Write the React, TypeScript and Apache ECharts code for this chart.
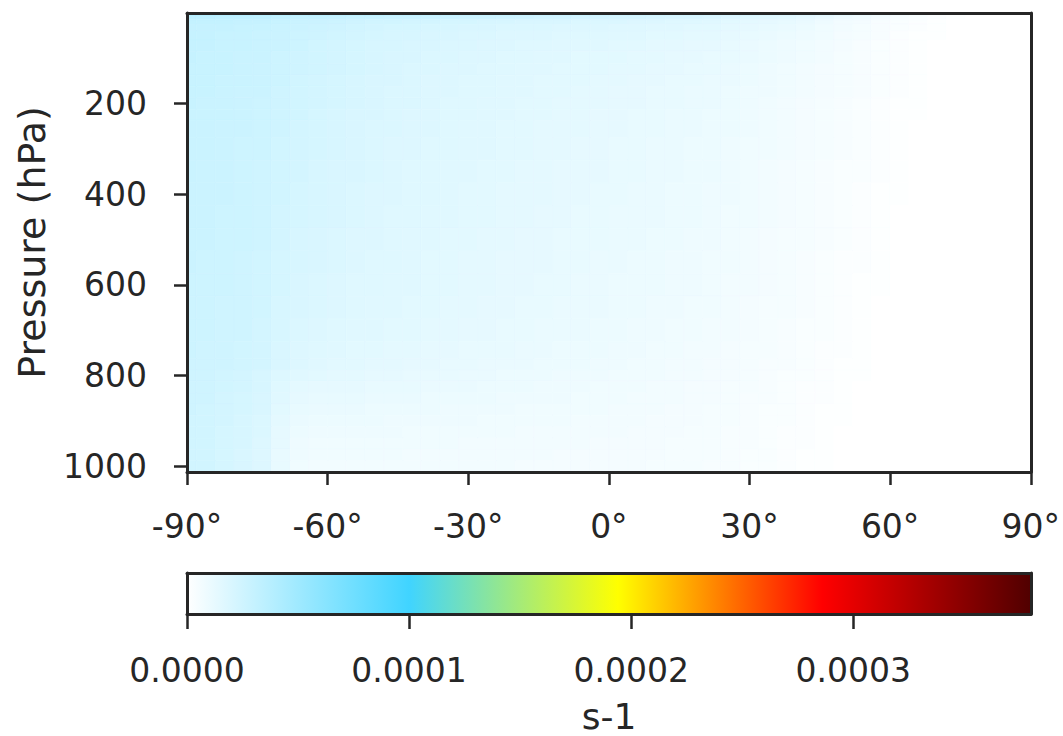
import { useEffect, useRef } from 'react';
import * as echarts from 'echarts';

// Pressure levels (hPa), top to bottom
const levels = [1, 2, 3, 5, 7, 10, 20, 30, 50, 70, 100, 125, 150, 175, 200, 225, 250, 300, 350, 400, 450, 500, 550, 600, 650, 700, 750, 775, 800, 825, 850, 875, 900, 925, 950, 975, 1000];

// Latitude centres (degrees)
const lats = [-90, -86, -82, -78, -74, -70, -66, -62, -58, -54, -50, -46, -42, -38, -34, -30, -26, -22, -18, -14, -10, -6, -2, 2, 6, 10, 14, 18, 22, 26, 30, 34, 38, 42, 46, 50, 54, 58, 62, 66, 70, 74, 78, 82, 86, 90];

// Field values in units of 1e-6 s-1, one row per pressure level (same order as levels)
const valueUnit = 1e-6;
const values: number[][] = [
  [72, 72, 71, 70, 69, 68, 67, 66, 65, 64, 63, 62, 61, 60, 59, 58, 57, 56, 55, 54, 53, 52, 51, 50, 49, 48, 47, 46, 45, 44, 43, 42, 40, 38, 35, 31, 27, 22, 17, 12, 8, 5, 3, 2, 1, 1],
  [62, 62, 61, 60, 60, 59, 58, 57, 56, 55, 54, 53, 52, 52, 51, 50, 49, 48, 47, 46, 45, 45, 44, 43, 42, 41, 40, 39, 38, 37, 36, 35, 33, 31, 28, 25, 21, 17, 13, 9, 6, 4, 2, 1, 1, 0],
  [52, 52, 51, 51, 50, 49, 49, 48, 47, 46, 45, 45, 44, 43, 42, 42, 41, 40, 39, 39, 38, 37, 36, 36, 35, 34, 33, 32, 31, 30, 29, 28, 27, 25, 22, 19, 16, 13, 10, 7, 4, 3, 2, 1, 0, 0],
  [44, 44, 43, 43, 42, 42, 41, 40, 40, 39, 38, 38, 37, 36, 36, 35, 34, 34, 33, 32, 32, 31, 30, 30, 29, 28, 28, 27, 26, 25, 24, 23, 22, 20, 18, 15, 12, 10, 7, 5, 3, 2, 1, 1, 0, 0],
  [38, 38, 37, 37, 36, 36, 35, 35, 34, 33, 33, 32, 32, 31, 31, 30, 29, 29, 28, 28, 27, 27, 26, 25, 25, 24, 23, 23, 22, 21, 20, 19, 18, 16, 14, 12, 10, 8, 6, 4, 2, 1, 1, 0, 0, 0],
  [34, 34, 33, 33, 33, 32, 31, 31, 30, 29, 29, 28, 28, 27, 27, 26, 26, 25, 25, 24, 24, 23, 23, 22, 22, 21, 20, 20, 19, 18, 17, 16, 15, 13, 11, 9, 8, 6, 4, 3, 2, 1, 0, 0, 0, 0],
  [31, 31, 31, 30, 30, 29, 28, 27, 26, 25, 24, 24, 23, 23, 22, 22, 21, 21, 20, 20, 20, 19, 19, 19, 18, 18, 17, 17, 16, 15, 14, 13, 12, 11, 9, 7, 6, 4, 3, 2, 1, 0, 0, 0, 0, 0],
  [30, 30, 30, 29, 29, 28, 27, 26, 25, 24, 23, 22, 22, 21, 21, 20, 20, 19, 19, 19, 18, 18, 18, 17, 17, 16, 16, 15, 15, 14, 13, 12, 11, 10, 8, 7, 5, 4, 3, 2, 1, 0, 0, 0, 0, 0],
  [30, 30, 29, 29, 28, 27, 26, 25, 24, 23, 22, 21, 21, 20, 20, 19, 19, 18, 18, 18, 17, 17, 17, 16, 16, 15, 15, 14, 14, 13, 12, 11, 10, 9, 8, 6, 5, 4, 2, 1, 1, 0, 0, 0, 0, 0],
  [30, 30, 29, 29, 28, 27, 26, 24, 23, 22, 21, 21, 20, 20, 19, 19, 18, 18, 17, 17, 16, 16, 16, 15, 15, 14, 14, 13, 13, 12, 11, 10, 9, 8, 7, 6, 4, 3, 2, 1, 0, 0, 0, 0, 0, 0],
  [30, 29, 29, 28, 28, 26, 25, 24, 23, 22, 21, 20, 20, 19, 19, 18, 18, 17, 17, 16, 16, 15, 15, 15, 14, 14, 13, 13, 12, 12, 11, 10, 9, 8, 7, 5, 4, 3, 2, 1, 0, 0, 0, 0, 0, 0],
  [29, 29, 29, 28, 27, 26, 25, 24, 23, 22, 21, 20, 19, 19, 18, 18, 17, 17, 16, 16, 15, 15, 15, 14, 14, 13, 13, 12, 12, 11, 10, 9, 8, 7, 6, 5, 4, 3, 2, 1, 0, 0, 0, 0, 0, 0],
  [29, 29, 28, 28, 27, 26, 24, 23, 22, 21, 20, 20, 19, 18, 18, 17, 17, 16, 16, 15, 15, 15, 14, 14, 13, 13, 12, 12, 11, 11, 10, 9, 8, 7, 6, 5, 4, 3, 2, 1, 0, 0, 0, 0, 0, 0],
  [29, 29, 28, 27, 27, 25, 24, 23, 22, 21, 20, 19, 19, 18, 18, 17, 17, 16, 16, 15, 15, 14, 14, 13, 13, 12, 12, 11, 11, 10, 9, 9, 8, 7, 6, 5, 4, 3, 2, 1, 0, 0, 0, 0, 0, 0],
  [29, 28, 28, 27, 26, 25, 24, 23, 22, 21, 20, 19, 19, 18, 17, 17, 16, 16, 15, 15, 14, 14, 14, 13, 13, 12, 12, 11, 11, 10, 9, 8, 7, 6, 5, 4, 3, 2, 1, 1, 0, 0, 0, 0, 0, 0],
  [28, 28, 28, 27, 26, 25, 24, 22, 21, 20, 20, 19, 18, 18, 17, 17, 16, 16, 15, 15, 14, 14, 13, 13, 12, 12, 11, 11, 10, 10, 9, 8, 7, 6, 5, 4, 3, 2, 1, 1, 0, 0, 0, 0, 0, 0],
  [28, 28, 27, 27, 26, 25, 23, 22, 21, 20, 19, 19, 18, 18, 17, 16, 16, 15, 15, 14, 14, 14, 13, 13, 12, 12, 11, 11, 10, 10, 9, 8, 7, 6, 5, 4, 3, 2, 1, 0, 0, 0, 0, 0, 0, 0],
  [28, 28, 27, 26, 26, 24, 23, 22, 21, 20, 19, 18, 18, 17, 17, 16, 16, 15, 15, 14, 14, 13, 13, 12, 12, 11, 11, 10, 10, 9, 8, 8, 7, 6, 5, 4, 3, 2, 1, 0, 0, 0, 0, 0, 0, 0],
  [28, 27, 27, 26, 25, 24, 23, 21, 20, 20, 19, 18, 17, 17, 16, 16, 15, 15, 14, 14, 13, 13, 13, 12, 12, 11, 11, 10, 10, 9, 8, 7, 6, 5, 4, 3, 3, 2, 1, 0, 0, 0, 0, 0, 0, 0],
  [27, 27, 27, 26, 25, 24, 22, 21, 20, 19, 18, 18, 17, 17, 16, 15, 15, 14, 14, 14, 13, 13, 12, 12, 11, 11, 10, 10, 9, 9, 8, 7, 6, 5, 4, 3, 2, 1, 1, 0, 0, 0, 0, 0, 0, 0],
  [27, 27, 26, 26, 25, 23, 22, 21, 20, 19, 18, 17, 17, 16, 16, 15, 15, 14, 14, 13, 13, 12, 12, 11, 11, 11, 10, 10, 9, 8, 8, 7, 6, 5, 4, 3, 2, 1, 0, 0, 0, 0, 0, 0, 0, 0],
  [27, 27, 26, 26, 25, 23, 21, 20, 19, 18, 18, 17, 16, 16, 15, 15, 14, 14, 13, 13, 12, 12, 12, 11, 11, 10, 10, 9, 9, 8, 7, 6, 5, 5, 4, 3, 2, 1, 0, 0, 0, 0, 0, 0, 0, 0],
  [27, 26, 26, 25, 24, 22, 21, 20, 19, 18, 17, 17, 16, 15, 15, 14, 14, 13, 13, 13, 12, 12, 11, 11, 10, 10, 9, 9, 8, 8, 7, 6, 5, 4, 3, 2, 2, 1, 0, 0, 0, 0, 0, 0, 0, 0],
  [26, 26, 26, 25, 24, 22, 20, 19, 18, 17, 17, 16, 16, 15, 15, 14, 14, 13, 13, 12, 12, 11, 11, 10, 10, 10, 9, 9, 8, 7, 7, 6, 5, 4, 3, 2, 1, 1, 0, 0, 0, 0, 0, 0, 0, 0],
  [26, 26, 25, 25, 24, 21, 20, 19, 18, 17, 16, 16, 15, 15, 14, 14, 13, 13, 12, 12, 11, 11, 11, 10, 10, 9, 9, 8, 8, 7, 6, 5, 5, 4, 3, 2, 1, 0, 0, 0, 0, 0, 0, 0, 0, 0],
  [26, 26, 25, 25, 23, 21, 19, 18, 17, 16, 16, 15, 15, 14, 14, 13, 13, 12, 12, 11, 11, 11, 10, 10, 9, 9, 8, 8, 7, 7, 6, 5, 4, 3, 3, 2, 1, 0, 0, 0, 0, 0, 0, 0, 0, 0],
  [26, 25, 25, 24, 23, 20, 18, 17, 16, 15, 15, 14, 14, 13, 13, 12, 12, 12, 11, 11, 10, 10, 10, 9, 9, 8, 8, 7, 7, 6, 5, 5, 4, 3, 2, 2, 1, 0, 0, 0, 0, 0, 0, 0, 0, 0],
  [25, 25, 25, 24, 23, 20, 18, 16, 15, 15, 14, 14, 13, 13, 12, 12, 11, 11, 11, 10, 10, 10, 9, 9, 8, 8, 7, 7, 6, 6, 5, 4, 4, 3, 2, 1, 1, 0, 0, 0, 0, 0, 0, 0, 0, 0],
  [25, 25, 24, 23, 21, 18, 16, 15, 14, 14, 13, 13, 12, 12, 12, 11, 11, 10, 10, 10, 9, 9, 9, 8, 8, 8, 7, 7, 6, 6, 5, 4, 3, 3, 2, 1, 1, 0, 0, 0, 0, 0, 0, 0, 0, 0],
  [25, 25, 24, 23, 21, 17, 14, 13, 13, 13, 12, 12, 12, 11, 11, 11, 10, 10, 10, 9, 9, 9, 8, 8, 8, 7, 7, 6, 6, 5, 5, 4, 3, 2, 2, 1, 0, 0, 0, 0, 0, 0, 0, 0, 0, 0],
  [25, 25, 23, 22, 20, 16, 13, 12, 12, 12, 11, 11, 11, 10, 10, 10, 10, 9, 9, 9, 9, 8, 8, 8, 7, 7, 7, 6, 6, 5, 4, 4, 3, 2, 2, 1, 0, 0, 0, 0, 0, 0, 0, 0, 0, 0],
  [25, 24, 23, 22, 20, 15, 12, 11, 11, 11, 10, 10, 10, 10, 9, 9, 9, 9, 8, 8, 8, 8, 8, 7, 7, 7, 6, 6, 5, 5, 4, 3, 3, 2, 1, 1, 0, 0, 0, 0, 0, 0, 0, 0, 0, 0],
  [24, 24, 23, 21, 19, 14, 11, 10, 10, 10, 10, 9, 9, 9, 9, 9, 8, 8, 8, 8, 8, 7, 7, 7, 7, 6, 6, 6, 5, 5, 4, 3, 3, 2, 1, 1, 0, 0, 0, 0, 0, 0, 0, 0, 0, 0],
  [24, 24, 22, 21, 19, 13, 10, 9, 9, 9, 9, 9, 8, 8, 8, 8, 8, 8, 7, 7, 7, 7, 7, 7, 6, 6, 6, 5, 5, 4, 4, 3, 2, 2, 1, 0, 0, 0, 0, 0, 0, 0, 0, 0, 0, 0],
  [24, 24, 22, 21, 18, 13, 9, 8, 8, 8, 8, 8, 8, 8, 8, 7, 7, 7, 7, 7, 7, 7, 6, 6, 6, 6, 5, 5, 5, 4, 4, 3, 2, 2, 1, 0, 0, 0, 0, 0, 0, 0, 0, 0, 0, 0],
  [24, 24, 22, 20, 18, 12, 9, 8, 8, 8, 8, 8, 7, 7, 7, 7, 7, 7, 7, 7, 6, 6, 6, 6, 6, 6, 5, 5, 5, 4, 3, 3, 2, 1, 1, 0, 0, 0, 0, 0, 0, 0, 0, 0, 0, 0],
  [24, 24, 22, 20, 18, 12, 8, 7, 7, 7, 7, 7, 7, 7, 7, 7, 7, 7, 6, 6, 6, 6, 6, 6, 6, 5, 5, 5, 4, 4, 3, 3, 2, 1, 1, 0, 0, 0, 0, 0, 0, 0, 0, 0, 0, 0],
];

// Axis ticks
const latTickInterval = 30;
const pressureTicks = [200, 400, 600, 800, 1000];
const cbarTickInterval = 0.0001;
const cbarMax = 0.00038;

// Colormap anchors (value in s-1 -> colour)
const cmapValues = [0, 0.0001, 0.000194, 0.000286, 0.00038];
const cmapColors = ['#ffffff', '#40d4ff', '#ffff00', '#ff0000', '#500000'];

const hexToRgb = (h: string) => [parseInt(h.slice(1, 3), 16), parseInt(h.slice(3, 5), 16), parseInt(h.slice(5, 7), 16)];
const cmapRgb = cmapColors.map(hexToRgb);

function colorFor(v: number): string {
  if (v <= cmapValues[0]) return cmapColors[0];
  for (let i = 1; i < cmapValues.length; i++) {
    if (v <= cmapValues[i]) {
      const t = (v - cmapValues[i - 1]) / (cmapValues[i] - cmapValues[i - 1]);
      const a = cmapRgb[i - 1];
      const b = cmapRgb[i];
      const c = a.map((x, k) => Math.round(x + (b[k] - x) * t));
      return `rgb(${c[0]},${c[1]},${c[2]})`;
    }
  }
  return cmapColors[cmapColors.length - 1];
}

function edges(centers: number[]): number[] {
  const e: number[] = [];
  e.push(centers[0] - (centers[1] - centers[0]) / 2);
  for (let i = 1; i < centers.length; i++) e.push((centers[i - 1] + centers[i]) / 2);
  const n = centers.length;
  e.push(centers[n - 1] + (centers[n - 1] - centers[n - 2]) / 2);
  return e;
}

const latEdges = edges(lats);
const levelEdges = edges(levels);

const cellData: number[][] = [];
levels.forEach((_, j) => {
  lats.forEach((__, i) => {
    const v = (values[j] && values[j][i] != null ? values[j][i] : 0) * valueUnit;
    cellData.push([latEdges[i], latEdges[i + 1], levelEdges[j], levelEdges[j + 1], v]);
  });
});

const INK = '#262626';
const FONT = 'DejaVu Sans';

export default function App() {
  const ref = useRef<HTMLDivElement>(null);
  useEffect(() => {
    if (!ref.current) return;
    const chart = echarts.init(ref.current, undefined, { renderer: 'svg' });
    const frameLine = { show: true, onZero: false, lineStyle: { color: INK, width: 3 } };
    const hiddenAxisBits = {
      axisTick: { show: false },
      axisLabel: { show: false },
      splitLine: { show: false },
    };
    const option: any = {
      animation: false,
      backgroundColor: '#ffffff',
      grid: [
        { left: 187, top: 13, width: 844, height: 459 },
        { left: 187, top: 573, width: 844, height: 41 },
      ],
      xAxis: [
        {
          gridIndex: 0,
          type: 'value',
          position: 'bottom',
          min: -90,
          max: 90,
          interval: latTickInterval,
          z: 10,
          axisLine: frameLine,
          axisTick: { show: true, length: 13, lineStyle: { color: INK, width: 2.5 } },
          axisLabel: { formatter: (v: number) => `${v}°`, fontSize: 33, color: INK, fontFamily: FONT, margin: 38 },
          splitLine: { show: false },
        },
        { gridIndex: 0, type: 'value', position: 'top', min: -90, max: 90, z: 10, axisLine: frameLine, ...hiddenAxisBits },
        {
          gridIndex: 1,
          type: 'value',
          position: 'bottom',
          min: 0,
          max: cbarMax,
          interval: cbarTickInterval,
          z: 10,
          axisLine: frameLine,
          axisTick: { show: true, length: 15, lineStyle: { color: INK, width: 2.5 } },
          axisLabel: { formatter: (v: number) => v.toFixed(4), fontSize: 33, color: INK, fontFamily: FONT, margin: 40, showMaxLabel: false },
          splitLine: { show: false },
          name: 's-1',
          nameLocation: 'middle',
          nameGap: 84,
          nameTextStyle: { fontSize: 36, color: INK, fontFamily: FONT },
        },
        { gridIndex: 1, type: 'value', position: 'top', min: 0, max: cbarMax, z: 10, axisLine: frameLine, ...hiddenAxisBits },
      ],
      yAxis: [
        {
          gridIndex: 0,
          type: 'value',
          inverse: true,
          position: 'left',
          min: levelEdges[0],
          max: levelEdges[levelEdges.length - 1],
          z: 10,
          axisLine: frameLine,
          axisTick: { show: true, length: 13, lineStyle: { color: INK, width: 2.5 }, customValues: pressureTicks },
          axisLabel: { fontSize: 33, color: INK, fontFamily: FONT, margin: 40, customValues: pressureTicks, formatter: (v: number) => String(v) },
          splitLine: { show: false },
          name: 'Pressure (hPa)',
          nameLocation: 'middle',
          nameGap: 136,
          nameTextStyle: { fontSize: 38, color: INK, fontFamily: FONT },
        },
        { gridIndex: 0, type: 'value', position: 'right', inverse: true, min: levelEdges[0], max: levelEdges[levelEdges.length - 1], z: 10, axisLine: frameLine, ...hiddenAxisBits },
        { gridIndex: 1, type: 'value', position: 'left', min: 0, max: 1, z: 10, axisLine: frameLine, ...hiddenAxisBits },
        { gridIndex: 1, type: 'value', position: 'right', min: 0, max: 1, z: 10, axisLine: frameLine, ...hiddenAxisBits },
      ],
      series: [
        {
          type: 'custom',
          xAxisIndex: 0,
          yAxisIndex: 0,
          encode: { x: [0, 1], y: [2, 3] },
          data: cellData,
          renderItem: (params: any, api: any) => {
            const a = api.coord([api.value(0), api.value(2)]);
            const b = api.coord([api.value(1), api.value(3)]);
            const cs = params.coordSys;
            const shape = echarts.graphic.clipRectByRect(
              { x: Math.min(a[0], b[0]), y: Math.min(a[1], b[1]), width: Math.abs(b[0] - a[0]), height: Math.abs(b[1] - a[1]) },
              { x: cs.x, y: cs.y, width: cs.width, height: cs.height }
            );
            if (!shape) return null;
            const c = colorFor(api.value(4));
            return { type: 'rect', shape, style: { fill: c, stroke: c, lineWidth: 0.6 } };
          },
        },
        {
          type: 'custom',
          xAxisIndex: 2,
          yAxisIndex: 2,
          encode: { x: [0, 1], y: [2, 3] },
          data: [[0, cbarMax, 0, 1]],
          renderItem: (params: any, api: any) => {
            const a = api.coord([api.value(0), api.value(2)]);
            const b = api.coord([api.value(1), api.value(3)]);
            const grad = new echarts.graphic.LinearGradient(
              0, 0, 1, 0,
              cmapValues.map((v, i) => ({ offset: v / cbarMax, color: cmapColors[i] }))
            );
            return {
              type: 'rect',
              shape: { x: Math.min(a[0], b[0]), y: Math.min(a[1], b[1]), width: Math.abs(b[0] - a[0]), height: Math.abs(b[1] - a[1]) },
              style: { fill: grad },
            };
          },
        },
      ],
    };
    chart.setOption(option);
    return () => chart.dispose();
  }, []);
  return <div ref={ref} style={{ position: 'fixed', left: 0, top: 0, width: 1063, height: 736 }} />;
}
